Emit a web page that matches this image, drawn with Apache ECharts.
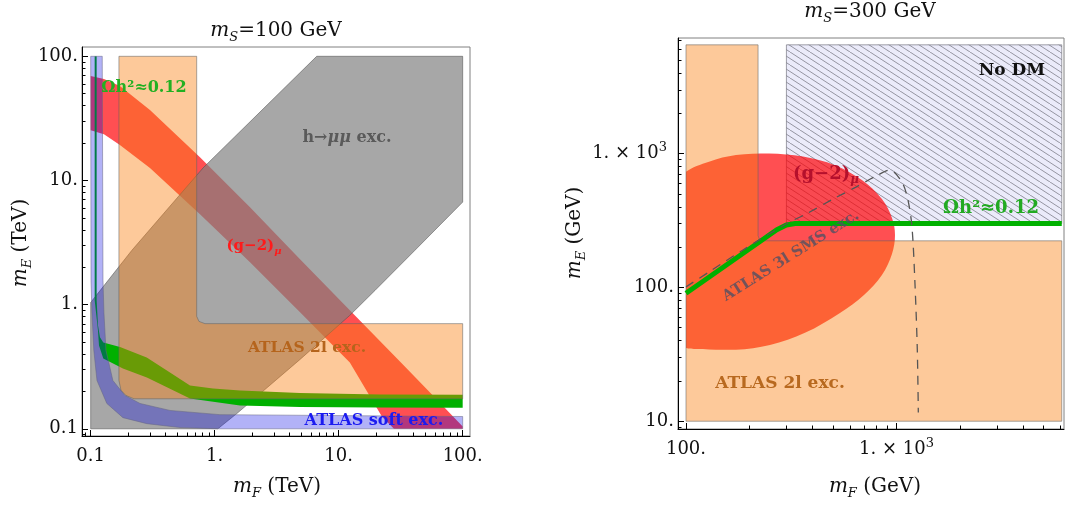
<!DOCTYPE html>
<html><head><meta charset="utf-8">
<script src="https://cdn.jsdelivr.net/npm/echarts@6/dist/echarts.min.js"></script>
<style>html,body{margin:0;padding:0;background:#fff}#c{width:1065px;height:507px}</style>
</head><body><div id="c"></div>
<script>
const lg = Math.log10;

// ---------- tick values / labels ----------
const leftMajorTicks = [0.1, 1, 10, 100];
const leftMajorLabels = ['0.1', '1.', '10.', '100.'];
const rightXMajorTicks = [100, 1000];
const rightXMajorLabels = ['100.', '1. × 10{sup|3}'];
const rightYMajorTicks = [10, 100, 1000];
const rightYMajorLabels = ['10.', '100.', '1. × 10{supy|3}'];

// ---------- left panel (m_S = 100 GeV), points [mF, mE] in TeV ----------
const leftGm2Upper = [[0.1,69.4],[0.128,65.6],[0.172,57.6],[0.3007,36.9],[0.761,15.4],[1.927,6.09],[4.88,2.32],[12.3,0.90],[31.2,0.349],[54.5,0.196],[100,0.1043],[100,0.1]];
const leftGm2Lower = [[27.9,0.1],[22.3,0.1256],[12.3,0.3425],[4.88,0.867],[1.927,2.19],[0.761,5.35],[0.3007,12.6],[0.172,19.3],[0.128,23.6],[0.1,25.4]];
const leftHmumu = [[0.1,0.1],[1.06,0.1],[1.54,0.135],[4.88,0.362],[12.3,0.82],[19.6,1.30],[41.2,2.74],[100,6.7],[100,100],[6.65,100],[0.805,12.6],[0.215,2.74],[0.1,1.04]];
const leftAtlas2l = [[0.169,100],[0.169,0.245],[0.1756,0.204],[0.1927,0.1855],[0.2234,0.1745],[100,0.1745],[100,0.703],[0.835,0.703],[0.747,0.733],[0.716,0.805],[0.716,100]];
const leftSoftOuter = [[0.1,100],[0.1006,1.57],[0.1024,0.851],[0.106,0.428],[0.1124,0.245],[0.135,0.160],[0.182,0.123],[0.284,0.110],[0.525,0.1024],[1.1,0.1],[100,0.1]];
const leftSoftInner = [[100,0.1256],[1.10,0.130],[0.436,0.1406],[0.25,0.160],[0.189,0.1855],[0.151,0.245],[0.1328,0.428],[0.128,0.851],[0.1257,1.57],[0.124,100]];
const leftRelicUpper = [[0.1077,100],[0.1117,100],[0.1117,1.083],[0.1145,0.681],[0.1188,0.545],[0.1264,0.4966],[0.1725,0.455],[0.283,0.3758],[0.436,0.2845],[0.632,0.2235],[0.969,0.2114],[1.60,0.2037],[4.88,0.1944],[21.5,0.189],[100,0.188]];
const leftRelicLower = [[100,0.1477],[21.5,0.1486],[4.88,0.150],[1.60,0.154],[0.632,0.1756],[0.284,0.2593],[0.182,0.306],[0.1264,0.369],[0.1167,0.4696],[0.1145,0.620],[0.1077,1.083]];

// ---------- right panel (m_S = 300 GeV), points [mF, mE] in GeV ----------
const rightAtlas2l = [[100,10],[6100,10],[6100,223],[231,223],[223,229],[220,244],[220,6500],[100,6500]];
const rightNoDM = [[300,300],[6100,300],[6100,6500],[300,6500]];
const rightGm2 = [[100,634],[100,731],[128.6,871],[172.8,975],[248,1003],[359.6,950],[516,813],[685,634],[853,457],[952,330],[984,246.6],[952,177.8],[853,124],[701,87.9],[539,64.5],[367.5,45.8],[250.6,37.2],[172.8,34.2],[128.6,34.4],[100,35.2],[100,40.6]];
const rightRelic = [[100,90.5],[270,270],[300,293],[330,300],[6100,300]];
const rightSms = [[100,100.9],[128.6,130.5],[186.6,190.6],[298.5,297.9],[371.5,353.6],[499,457],[642,562],[799,679],[931,753.6],[1062,612],[1134,449.6],[1185,282.8],[1224,108],[1256,34.2],[1270,11.6]];

// ---------- helpers ----------
const FONT = 'DejaVu Serif';
function minorTicks(lo, hi) {
  const out = [];
  for (let d = Math.floor(lo) - 1; d <= Math.ceil(hi); d++)
    for (let k = 2; k <= 9; k++) { const v = d + lg(k); if (v >= lo && v <= hi) out.push(v); }
  return out;
}
function axisPair(kind, gridIndex, range, majors, labels, pos) {
  const fmt = v => { const i = majors.findIndex(m => Math.abs(lg(m) - v) < 1e-6); return i >= 0 ? labels[i] : ''; };
  const major = {
    type: 'value', gridIndex, min: range[0], max: range[1], position: pos,
    axisLine: {show: true, onZero: false, lineStyle: {color: '#000', width: 1}},
    axisTick: {show: true, inside: true, length: 6, lineStyle: {color: '#000', width: 1}, customValues: majors.map(lg)},
    axisLabel: {show: true, customValues: majors.map(lg), formatter: fmt, fontFamily: FONT, fontSize: 18, color: '#111',
      lineHeight: 24, margin: kind === 'x' ? 8 : 4,
      rich: {
        sup: {fontSize: 13, fontFamily: FONT, verticalAlign: 'top', lineHeight: 13, color: '#111'},
        supy: {fontSize: 13, fontFamily: FONT, verticalAlign: 'top', lineHeight: 13, color: '#111', padding: [0, 7, 0, 0]}
      }},
    splitLine: {show: false}
  };
  const minor = {
    type: 'value', gridIndex, min: range[0], max: range[1], position: pos,
    axisLine: {show: false, onZero: false}, axisLabel: {show: false}, splitLine: {show: false},
    axisTick: {show: true, inside: true, length: 3.5, lineStyle: {color: '#000', width: 1}, customValues: minorTicks(range[0], range[1])}
  };
  return [major, minor];
}
function poly(pts, axis, fill, stroke, smooth) {
  return {
    type: 'custom', xAxisIndex: axis, yAxisIndex: axis, silent: true, clip: true,
    data: [[lg(pts[0][0]), lg(pts[0][1])]],
    renderItem: (params, api) => {
      const p = pts.map(q => api.coord([lg(q[0]), lg(q[1])]));
      const shape = {points: p, smooth: smooth || 0};
      if (smooth) {
        const mn = [Infinity, Infinity], mx = [-Infinity, -Infinity];
        p.forEach(v => { mn[0] = Math.min(mn[0], v[0]); mn[1] = Math.min(mn[1], v[1]); mx[0] = Math.max(mx[0], v[0]); mx[1] = Math.max(mx[1], v[1]); });
        shape.smoothConstraint = [mn, mx];
      }
      return {type: 'polygon', shape, style: {fill: fill, stroke: stroke || null, lineWidth: 1}};
    }
  };
}
function hatch() {
  const c = document.createElement('canvas'); c.width = 20; c.height = 13;
  const g = c.getContext('2d');
  g.fillStyle = '#ebebfa'; g.fillRect(0, 0, 20, 13);
  g.strokeStyle = 'rgba(90,90,100,0.7)'; g.lineWidth = 0.85;
  for (const off of [-20, -10, 0, 10, 20]) { g.beginPath(); g.moveTo(off, 0); g.lineTo(off + 20, 13); g.stroke(); }
  return c;
}

const LX = [-1.070, 2.059], LY = [-1.058, 2.075];
const RX = [1.962, 3.796], RY = [0.942, 3.864];

const xAxes = [...axisPair('x', 0, LX, leftMajorTicks, leftMajorLabels, 'bottom'),
               ...axisPair('x', 1, RX, rightXMajorTicks, rightXMajorLabels, 'bottom')];
const yAxes = [...axisPair('y', 0, LY, leftMajorTicks, leftMajorLabels, 'left'),
               ...axisPair('y', 1, RY, rightYMajorTicks, rightYMajorLabels, 'left')];

const RED = 'rgba(255,0,5,0.69)', GRAY = 'rgba(127,127,127,0.69)', GREEN = '#00b000',
      ORANGE = 'rgba(250,126,14,0.42)', BLUE = 'rgba(0,0,230,0.3)';

const series = [
  // left panel, bottom to top
  poly(leftGm2Upper.concat(leftGm2Lower), 0, RED, null),
  poly(leftHmumu, 0, GRAY, 'rgba(80,80,80,0.55)'),
  poly(leftRelicUpper.concat(leftRelicLower), 0, GREEN, null),
  poly(leftAtlas2l, 0, ORANGE, 'rgba(100,100,100,0.55)'),
  poly(leftSoftOuter.concat(leftSoftInner), 0, BLUE, 'rgba(100,100,130,0.5)'),
  // right panel
  poly(rightNoDM, 2, {image: hatch(), repeat: 'repeat'}, 'rgba(100,100,110,0.6)'),
  poly(rightGm2, 2, RED, null, 0.35),
  poly(rightAtlas2l, 2, ORANGE, 'rgba(100,100,100,0.55)'),
  {type: 'line', xAxisIndex: 2, yAxisIndex: 2, silent: true, clip: true, showSymbol: false, symbol: 'none',
   data: rightRelic.map(p => [lg(p[0]), lg(p[1])]), lineStyle: {color: GREEN, width: 5}},
  {type: 'line', xAxisIndex: 2, yAxisIndex: 2, silent: true, clip: true, showSymbol: false, symbol: 'none', smooth: 0.3,
   data: rightSms.map(p => [lg(p[0]), lg(p[1])]), lineStyle: {color: '#555', width: 1.3, type: [9, 7]}}
];

function txt(text, x, y, size, color, opts) {
  opts = opts || {};
  return {type: 'text', x, y, rotation: opts.rot || 0, z: 100, silent: true,
    style: {text, x: 0, y: 0, fontFamily: FONT, fontSize: size, fontWeight: opts.bold ? 'bold' : 'normal', fill: color,
      align: 'center', verticalAlign: 'middle', lineHeight: size + 6,
      rich: {
        it: {fontStyle: 'italic', fontFamily: FONT, fontSize: size, fontWeight: opts.bold ? 'bold' : 'normal', fill: color, lineHeight: size + 6},
        sub: {fontStyle: 'italic', fontFamily: FONT, fontSize: Math.round(size * 0.65), fontWeight: opts.bold ? 'bold' : 'normal', fill: color, verticalAlign: 'bottom', lineHeight: Math.round(size * 0.6)}
      }}};
}

const graphics = [
  txt('{it|m}{sub|S}=100 GeV', 276, 31, 20, '#111'),
  txt('{it|m}{sub|S}=300 GeV', 870, 12, 20, '#111'),
  txt('{it|m}{sub|F} (TeV)', 277, 487, 20, '#111'),
  txt('{it|m}{sub|E} (TeV)', 21, 243, 20, '#111', {rot: Math.PI / 2}),
  txt('{it|m}{sub|F} (GeV)', 875, 487, 20, '#111'),
  txt('{it|m}{sub|E} (GeV)', 575, 233, 20, '#111', {rot: Math.PI / 2}),
  txt('Ωh²≈0.12', 144, 88, 16, '#22b022', {bold: true}),
  txt('h→{it|μμ} exc.', 347, 138, 16, '#5a5a5a', {bold: true}),
  txt('(g−2){sub|μ}', 254, 246, 15, '#ff1a1a', {bold: true}),
  txt('ATLAS 2l exc.', 307, 348, 15.5, '#b5641c', {bold: true}),
  txt('ATLAS soft exc.', 374, 421, 16, '#1b1bf0', {bold: true}),
  txt('No DM', 1012, 71, 17, '#111', {bold: true}),
  txt('(g−2){sub|μ}', 826, 174, 18, '#b5102c', {bold: true}),
  txt('Ωh²≈0.12', 991, 208, 18, '#22aa22', {bold: true}),
  txt('ATLAS 2l exc.', 780, 384, 17, '#b8691f', {bold: true}),
  txt('ATLAS 3l SMS exc.', 791, 256, 15, 'rgba(80,80,100,0.8)', {bold: true, rot: 32 * Math.PI / 180})
];

const chart = echarts.init(document.getElementById('c'), null, {renderer: 'canvas'});
chart.setOption({
  animation: false,
  backgroundColor: '#fff',
  grid: [
    {left: 82, top: 47, width: 388, height: 389, containLabel: false, show: true, borderColor: '#808080', borderWidth: 1, backgroundColor: 'transparent'},
    {left: 678, top: 38, width: 386, height: 391, containLabel: false, show: true, borderColor: '#808080', borderWidth: 1, backgroundColor: 'transparent'}
  ],
  xAxis: xAxes,
  yAxis: yAxes,
  series: series,
  graphic: graphics
});
</script>
</body></html>
